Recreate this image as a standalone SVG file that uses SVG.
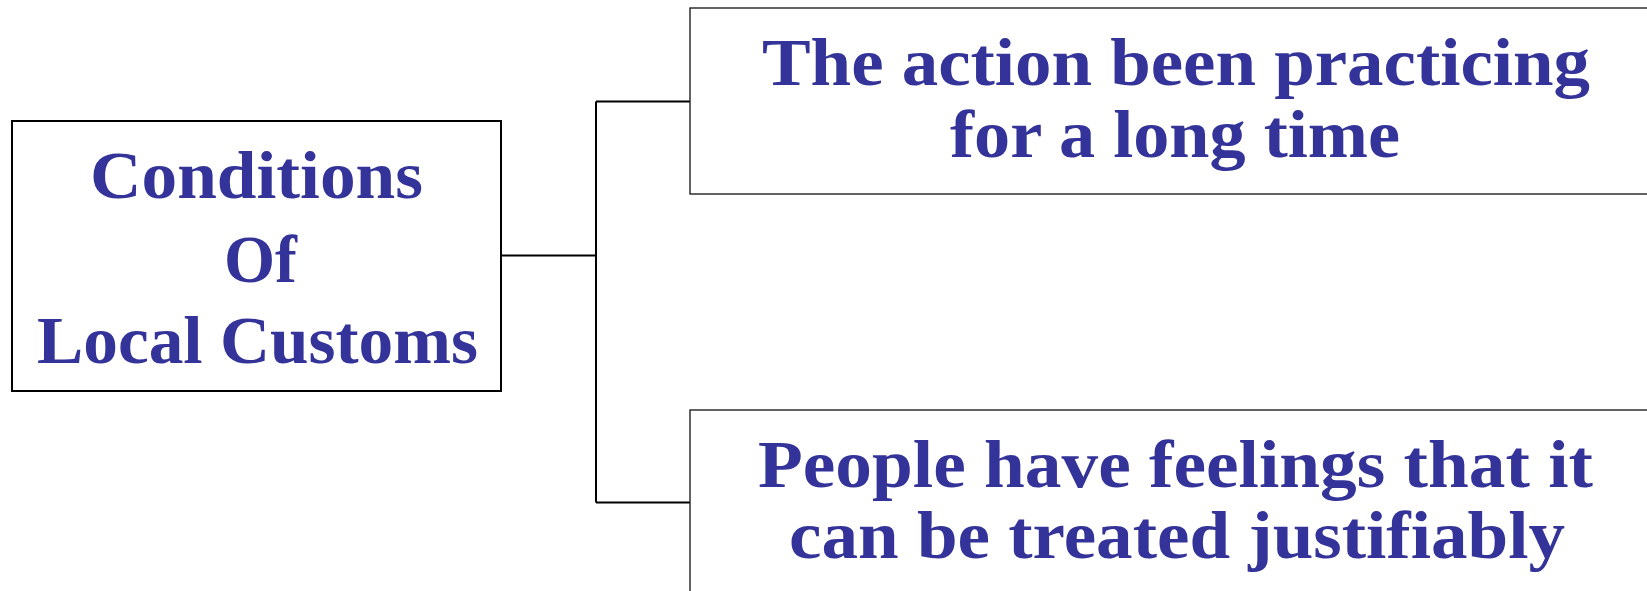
<svg xmlns="http://www.w3.org/2000/svg" width="1647" height="591" viewBox="0 0 1647 591">
<style>
.t{font-family:"Liberation Serif","DejaVu Serif",serif;font-weight:bold;font-size:68px;fill:#333399}
.box{fill:#ffffff;stroke:#000000;stroke-width:2}
.box2{fill:#ffffff;stroke:#222222;stroke-width:1.4}
.c{fill:none;stroke:#000000;stroke-width:2}
</style>
<rect width="1647" height="591" fill="#ffffff"/>
<g id="connectors">
<path class="c" d="M501 255.5 H596 M596 101.5 V502.5 M596 101.5 H690 M596 502.5 H690"/>
</g>
<g id="node-root">
<rect class="box" x="12" y="121" width="489" height="270"/>
<text class="t" x="90" y="198" textLength="333" lengthAdjust="spacingAndGlyphs">Conditions</text>
<text class="t" x="224" y="282" textLength="73" lengthAdjust="spacingAndGlyphs">Of</text>
<text class="t" x="37" y="363" textLength="441" lengthAdjust="spacingAndGlyphs">Local Customs</text>
</g>
<g id="node-top">
<rect class="box2" x="690" y="8" width="1000" height="186"/>
<text class="t" x="762" y="85" textLength="828" lengthAdjust="spacingAndGlyphs">The action been practicing</text>
<text class="t" x="950" y="157" textLength="450" lengthAdjust="spacingAndGlyphs">for a long time</text>
</g>
<g id="node-bottom">
<rect class="box2" x="690" y="410" width="1000" height="200"/>
<text class="t" x="758" y="487" textLength="835" lengthAdjust="spacingAndGlyphs">People have feelings that it</text>
<text class="t" x="789" y="558" textLength="776" lengthAdjust="spacingAndGlyphs">can be treated justifiably</text>
</g>
</svg>
